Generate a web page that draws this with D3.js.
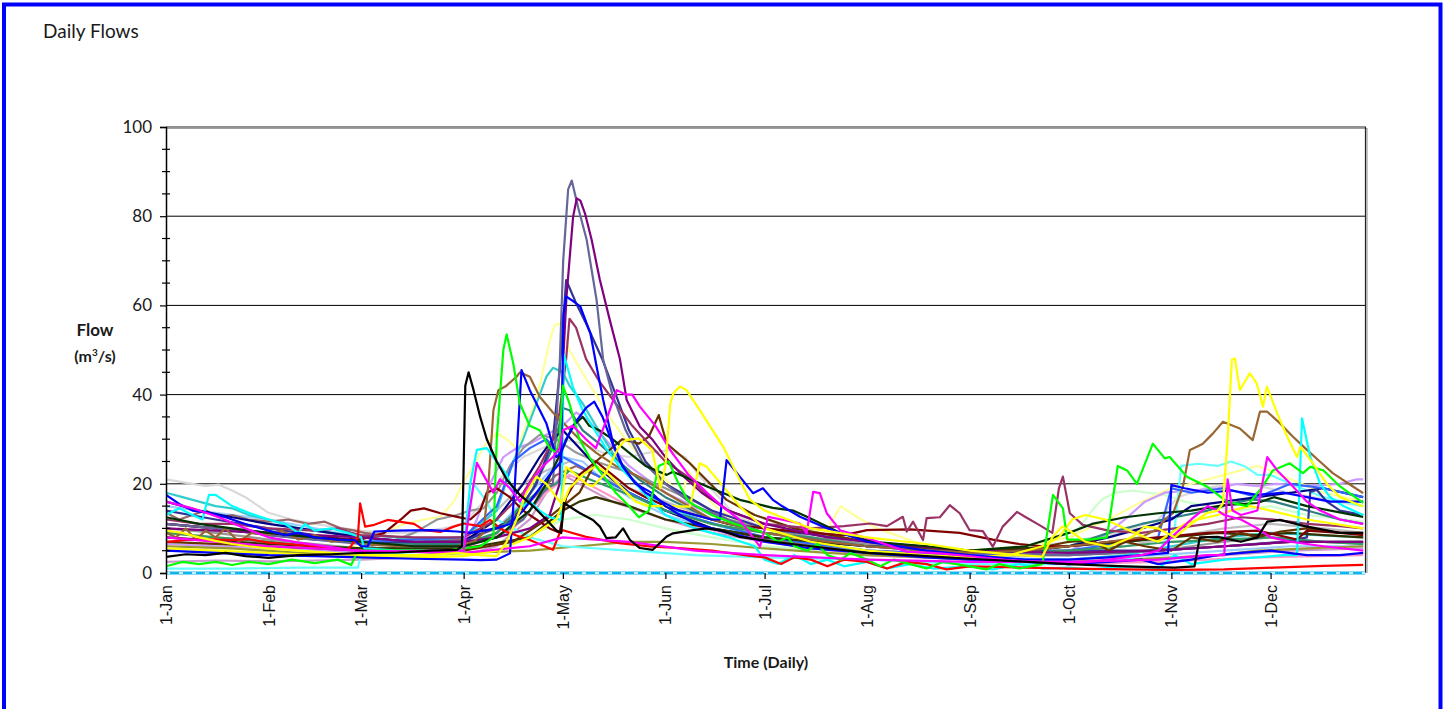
<!DOCTYPE html>
<html>
<head>
<meta charset="utf-8">
<title>Daily Flows</title>
<script src="https://cdn.jsdelivr.net/npm/d3@7/dist/d3.min.js"></script>
<style>
  html, body { margin: 0; padding: 0; background: #ffffff; }
  svg { display: block; }
  .ui { font-family: Lato, "Open Sans", sans-serif; fill: #1a1a1a; }
  .xlab { font-family: "Liberation Sans", Arial, sans-serif; font-size: 16px; fill: #111; }
</style>
</head>
<body>
<svg id="chart" width="1445" height="709"></svg>
<script>
// ---- axis ticks ----
const monthDays   = [0, 31, 59, 90, 120, 151, 181, 212, 243, 273, 304, 334];
const monthLabels = ["1-Jan", "1-Feb", "1-Mar", "1-Apr", "1-May", "1-Jun",
                     "1-Jul", "1-Aug", "1-Sep", "1-Oct", "1-Nov", "1-Dec"];
const yMajor = [0, 20, 40, 60, 80, 100];
const yMinor = [5, 10, 15, 25, 30, 35, 45, 50, 55, 65, 70, 75, 85, 90, 95];
const dayExtent = [0, 362.7];

// ---- daily flow records, [day of year, flow m3/s] ----
const flowLightGray = [[0,21],[4,20.5],[8,20],[12,19.5],[16,19.8],[20,18.5],[24,17],[28,15],[31,13.5],[38,12],[45,11],[52,10.2],[59,9.5],[66,9],[75,9],[84,10],[90,11],[96,16],[102,22],[108,26],[114,28],[120,30],[126,29],[132,27],[140,26],[146,27],[152,27.5],[157,26],[161,22],[166,18],[172,13],[181,10],[195,8],[212,6.5],[228,5.5],[243,5],[258,5.5],[273,7],[288,9],[300,12],[306,17],[314,19],[322,20],[330,19.5],[340,18],[350,16.5],[362,15]];
const flowSilver = [[0,9],[15,8],[31,7],[45,6],[59,5.5],[75,6],[90,8],[100,14],[108,20],[115,23],[122,25],[130,22],[140,19],[151,16],[165,12],[181,9],[200,7],[212,6],[230,5],[243,4.5],[260,4],[273,4.5],[290,6],[304,8],[320,10],[334,11],[350,10],[362,9]];
const flowThistle = [[0,2.5],[15,2.8],[31,2.6],[45,2.8],[59,3],[75,3.5],[90,4],[100,6],[110,12],[115,18],[120,22],[125,20],[135,16],[151,12],[165,9],[181,7],[212,5],[243,3],[273,2.5],[300,3],[320,4],[340,5],[362,5.5]];
const flowLightGreen = [[0,5],[31,4.5],[59,4],[90,4],[100,5],[108,8],[115,10],[120,12],[130,13],[140,12],[151,10],[165,8],[181,6],[212,4.5],[243,3.5],[265,4],[272,6],[276,10],[280,14],[283,16.5],[287,18],[292,18.5],[297,18],[302,17.5],[308,16],[315,15],[325,14],[334,15],[345,13],[362,11.5]];
const flowLightYellow = [[0,6],[15,5.5],[31,5],[45,5],[59,6],[66,9],[72,11],[78,12],[83,12.6],[87,16],[90,20.5],[93,24],[96,28.3],[100,31.4],[103,30],[106,28],[110,35],[113,42],[116,52],[117.5,55.5],[119,56],[120,54.5],[122,50],[125,46],[130,40],[135,34],[140,29],[145,25],[151,21],[156,17],[158,23],[161,19],[166,15],[172,12],[181,10],[195,9],[200,10],[204,15],[209,12.5],[215,10],[230,6],[243,5],[260,6],[273,8],[285,12],[295,16],[304,19],[310,20],[320,22],[330,24],[334,23],[340,21],[350,18],[362,16]];
const flowPaleBlue = [[0,15],[10,14],[20,13],[31,12],[45,10],[59,8],[75,7],[90,7],[100,10],[108,16],[115,22],[120,26],[126,25],[132,21],[140,17],[151,13],[165,10],[181,7],[212,5],[243,3.5],[273,3],[300,4],[320,5],[340,6],[362,6]];
const flowLavender = [[0,6.5],[15,6],[31,5.5],[45,5],[59,4.8],[75,5],[90,6],[94,12],[98,20],[102,26],[106,28],[110,29],[115,31],[120,33],[124,36],[128,34],[134,29],[140,24],[151,18],[165,13],[181,9],[200,7],[212,6],[230,5],[243,4],[260,4],[273,5],[283,8],[290,12],[296,16],[302,18],[310,18.5],[318,19],[324,20],[330,19.5],[336,20],[345,19.5],[355,20],[360,21],[362,21]];
const flowRose = [[0,8],[31,6],[59,5],[90,5.5],[105,10],[115,18],[122,22],[130,19],[140,15],[151,12],[181,7],[212,4],[243,3],[273,2],[300,2.5],[330,3.5],[362,4]];
const flowOlive = [[0,6],[20,5.5],[40,4.5],[59,4],[75,4],[90,4.5],[110,5],[125,6],[140,7],[151,7],[165,6.5],[181,5.5],[200,4.5],[212,4],[230,3.5],[243,3],[260,2.5],[273,2.5],[290,3],[305,3.5],[318,4],[330,5],[345,5.5],[362,6]];
const flowGray = [[0,10],[15,9],[31,7.5],[45,6.5],[59,5.5],[68,7],[75,9],[82,12],[88,13],[92,14],[96,14.5],[100,18],[104,24],[108,28],[113,31],[118,30],[124,27],[130,25],[138,23],[145,21],[151,19],[160,16],[170,12],[181,10],[195,8],[212,6.5],[230,5.5],[243,4.5],[260,4],[273,4],[290,4.5],[305,5.5],[320,7],[334,8],[350,7],[362,6.5]];
const flowRosyBrown = [[0,13.5],[4,12],[8,13],[12,14],[16,12.5],[20,13],[25,12],[31,11.5],[37,12],[43,11],[48,11.5],[53,10],[57,9.5],[60,9],[70,8],[80,7.5],[90,7.5],[100,10],[110,16],[118,22],[124,24],[130,22],[140,18],[151,14],[165,10],[181,7.5],[212,5],[243,4],[273,4],[300,5],[320,6],[340,7],[362,7]];
const flowTeal = [[0,18],[5,17],[10,16],[15,15],[20,14.5],[25,13],[31,12],[40,10],[50,9],[59,8],[62,8.5],[70,8],[80,7.5],[90,8],[100,14],[105,25],[108,30],[112,38],[115,44],[117,46],[120,45],[122,42],[126,38],[130,33],[135,27],[140,22],[145,18],[151,15],[165,11],[181,8],[212,5],[243,3],[273,3],[290,4],[304,6],[320,8],[334,9],[362,8]];
const flowDarkTeal = [[0,11],[15,10],[31,8.5],[45,7.5],[59,7],[75,6.5],[90,6.5],[100,9],[106,13],[111,19],[115,25],[118,30],[120,37],[122,36.5],[126,32],[131,29],[137,25],[143,21],[151,17],[165,12],[181,9],[200,7],[212,6],[243,5],[260,5],[273,6],[285,9],[295,11],[305,12.5],[315,14],[322,15.5],[328,16.5],[335,16],[345,14],[355,12],[362,11]];
const flowLightCyan = [[0,1],[20,1],[40,1.2],[58,1.2],[59,4],[70,4.5],[85,5],[90,5],[93,20],[96,17],[100,12],[110,8],[120,6],[140,5],[160,4],[181,3.5],[212,3],[243,2],[273,2],[290,3],[300,5],[305,10],[307,24],[312,24.5],[318,24],[322,25],[326,24],[330,22],[334,22],[340,20],[350,17],[362,15]];
const flowNavy = [[0,16],[10,14],[20,12.5],[31,11],[45,9.5],[59,8],[75,7],[90,7],[100,12],[108,20],[113,26],[117,30],[120,32],[125,28],[130,24],[140,18],[151,14],[165,10],[181,8],[212,6],[243,5],[260,5],[273,6],[285,8],[295,10],[304,12],[310,15],[320,16],[330,17],[340,18],[350,19],[362,17]];
const flowDarkBlue = [[0,14],[15,12],[31,10],[59,7],[90,7],[105,12],[112,20],[117,30],[119,45],[121,65.7],[124,60.5],[127,56],[132,47.8],[136,40],[140,32],[145,25],[151,20],[165,14],[181,10],[212,7],[243,5],[273,5],[300,5],[320,6],[338,7],[345,8],[346,18.2],[348,18.6],[351,16],[355,14],[362,13]];
const flowRoyal = [[0,11],[31,9],[59,7],[90,8],[100,15],[105,25],[110,28],[115,30],[120,26],[130,22],[140,18],[151,14],[181,8],[212,5],[243,4],[273,5],[300,8],[304,19],[310,18],[320,19],[330,17],[340,20],[350,19],[362,17]];
const flowSeaGreen = [[0,9],[15,8],[31,7],[45,6],[59,5.5],[75,5.5],[90,6],[100,9],[106,14],[112,18],[118,20],[122,23],[128,21],[135,19],[142,17],[151,14],[165,11],[181,9],[195,8],[212,6],[230,5],[243,4.5],[260,4.5],[273,5],[290,6],[304,7],[320,7.5],[334,8],[350,7],[362,6.5]];
const flowDarkOlive = [[0,8],[31,6.5],[59,5.5],[90,5.5],[110,8],[120,14],[125,16],[130,17],[140,15],[151,12],[165,10],[181,8],[212,6],[243,5],[273,6],[290,7],[304,8],[318,9],[330,8.5],[340,9],[350,8.5],[362,8]];
const flowDarkBrown = [[0,7],[31,6],[59,5],[90,5],[105,7],[115,12],[120,15],[125,18],[130,25],[138,30],[143,29],[146,30.6],[149,35.4],[151.4,29],[158.4,24.6],[163.5,20.8],[169.5,16.4],[178,13],[190,10],[212,7],[230,5.5],[243,5],[260,5],[273,7],[280,7.4],[285,5],[290,7],[296,6],[304,5],[310,8],[318,7],[325,9],[330,8],[337,9.3],[345,10],[355,9],[362,9]];
const flowMaroon = [[0,11],[15,10],[31,9],[45,8],[59,7.5],[66,9],[71,12],[74,14],[78,14.5],[83,13.4],[88,12.6],[92,12],[95,14],[97,18],[100,19],[104,17],[108,14],[112,12],[116,10],[119,9],[121,17],[125,22],[130,25],[135,22],[140,19],[145,17],[151,15],[160,13],[170,11],[181,10],[195,9],[205,8.5],[212,9.6],[225,9.8],[240,9],[250,7.5],[258,6.5],[265,6],[273,6],[285,7],[300,8],[315,9],[330,9.5],[342,7.5],[345,9.5],[355,9],[362,8.5]];
const flowPlum = [[0,12],[10,11],[20,11],[31,10],[45,9.5],[52,10],[56,9],[59,8.5],[75,8],[90,8],[100,12],[108,18],[113,24],[117,30],[119,36],[121,48],[122,57],[124,55],[127,48],[131,43],[136,38],[141,33],[146,29],[151,25],[157,22],[163,18],[170,14],[181,11],[195,10],[205,10.5],[212.9,11.1],[218,10.5],[222.8,12.6],[224,9.3],[225.9,11.5],[228.9,7.4],[230,12.3],[234,12.5],[237,15.2],[240,13.4],[243,9.6],[247,9.4],[250,5.9],[253,10.4],[257.3,13.7],[260,12.5],[264,10.8],[268,9],[270,19],[271.2,21.6],[273.3,13.4],[277.2,10.8],[285,9.5],[295,9],[305,10],[315,11],[325,12.5],[335,12],[345,11],[355,10.5],[362,10]];
const flowSlate = [[0,11],[15,10],[31,8.5],[45,7.5],[59,6.5],[75,6],[90,6],[100,8],[108,12],[114,18],[117,20],[119.1,47.8],[120.1,70],[121.6,86],[122.7,88],[124.6,82],[127.2,74.7],[130.2,61.2],[132.2,47.8],[135,40],[139,32],[144,25],[151,20],[160,15],[170,12],[181,9],[212,6],[243,4.5],[273,4],[300,5],[320,6],[340,7],[362,7]];
const flowPurple = [[0,10],[15,9.5],[31,9],[45,8.5],[59,8],[75,7],[90,7],[100,8],[110,10],[116,13],[119,20],[120.1,47.8],[121.1,62],[123.1,79.9],[124.2,84],[125.3,83.5],[126.7,80.6],[128.7,74.7],[131.2,65.7],[134.2,56.7],[137.3,47.8],[139.3,38.8],[143.3,32.8],[147.2,29.8],[151,26],[156,22],[162,18],[170,14],[181,11],[200,8],[212,7],[243,5],[273,4.5],[300,5],[320,6],[340,7],[362,7]];
const flowBrown = [[0,9],[3,8],[6,10],[9,7.5],[12,9.5],[15,8],[18,10],[22,7],[26,9],[31,8.5],[35,9.5],[40,7.5],[45,8.5],[50,7],[55,7.5],[59,6.5],[70,6],[80,6],[88,6],[93,7],[96,9],[97.5,20],[99,36.5],[100.5,41],[102.6,41.8],[106,44],[107,45],[110,44],[113,39.5],[117,36],[121,33],[125,30],[130,27],[136,24],[142,22],[151,18],[165,12],[181,9],[200,7],[212,6],[230,5],[243,4.5],[260,5],[273,6],[285,7],[295,8],[300,10],[302,12],[304.5,13.4],[307.5,19.4],[309.6,27.6],[311.7,28.3],[313.5,29],[316.6,31.3],[319.6,33.9],[324.7,32.4],[328.6,29.8],[330.8,36.2],[332.9,36.2],[336.8,33.6],[340.7,30.6],[345,27.6],[348.9,25],[352.8,22.4],[358.9,19.4],[362,17.9]];
const flowDarkGreen = [[0,12.5],[10,11],[20,10],[31,9],[45,8],[59,7],[75,6],[90,6],[100,8],[110,14],[115,20],[120,28],[123,33],[126,35],[128,33],[131,32],[135,30],[140,27],[145,24],[151.4,22],[153.3,22.7],[163.6,19.4],[173.5,16.4],[183.5,14.6],[189.6,14],[193.8,12.6],[203.8,9],[213.8,7],[230,6],[243,5],[260,6],[273,9],[280,11],[290,12.5],[300,13.4],[310,14],[320,15.2],[330,15.7],[335,17],[345,15],[362,12.6]];
const flowCyan = [[0,13],[4,14.5],[8,13],[11,12],[13,17.5],[15,17.5],[20,15],[25,13.5],[31,12],[36,11],[40,9],[42,11],[45,9.5],[50,10],[55,9],[59,8],[60,5.5],[70,5],[80,5],[90,5],[92,20],[94,27.6],[97,28],[100,25],[103,22],[106,17],[108,15],[110,16],[113,14],[116,12.5],[119.5,11.9],[120.3,49],[123,41.8],[126,36.5],[129,32.8],[133,28],[137,24],[142,20],[147,16],[151,13],[160,10],[170,8],[178,6],[181,3],[185,2],[190,4],[195,2],[200,3],[205,1.5],[212,2.5],[218,1],[225,2],[232,1],[243,1.5],[250,0.8],[258,2],[265,1],[273,1.2],[280,0.8],[290,1.5],[300,1],[305,4],[310,2],[320,3],[330,3.5],[338,4],[342,4],[343.5,34.7],[346,26],[349,20],[352,17],[356,15],[362,13]];
const flowRed = [[0,7],[6,7.4],[12,7.6],[20,7.4],[25,7.6],[31,6.8],[40,6.3],[50,5.7],[55,5.2],[58,8],[58.7,15.6],[60.2,10.4],[63,10.8],[67,11.9],[75,11],[78,9.6],[83,9.2],[87,10.4],[90,11.1],[95,10.5],[98,11.9],[101,10],[104,8.9],[110,7.4],[117,5.2],[119,8.9],[120,9.6],[127,8.1],[137,6.7],[147,5.9],[155,5.6],[165,5],[175,4],[181,3.5],[186,2],[190,3.5],[195,3],[200,1.5],[205,3],[212,2.5],[218,1],[224,2.5],[230,2],[236,0.8],[243,1.5],[260,1.2],[273,1],[290,0.8],[305,0.7],[320,0.8],[335,1.2],[350,1.6],[362,1.8]];
const flowGold = [[0,5.5],[15,5],[31,4.5],[45,4],[59,3.5],[75,3.5],[90,3.8],[100,5],[110,8],[118,12],[122,19],[126,22],[130,24],[134,22],[138,19],[142,16],[146,15],[151,15],[158.4,14.9],[161.4,24.6],[163.5,23.8],[168.5,19.4],[173.5,14.9],[181,10],[195,7],[212,5],[230,4],[243,3.5],[255,4],[265,6],[270,8],[274,12],[278,13],[284,12],[290,10],[296,8],[300,7],[304,9],[308,11],[312,12],[318,13],[322,14],[328,15],[334,14],[345,12],[362,10]];
const flowBlueA = [[0,17.5],[4,15.5],[8,14],[13,13.5],[18,12.5],[24,11],[31,9.5],[36,8.5],[40,9],[45,8],[52,7.5],[57,7.4],[59,6],[61,6],[63,9.3],[70,9.5],[80,9.6],[88,9.3],[92,9],[96,9.5],[100,10],[104,11],[108,14],[112,18],[116,22],[119.5,25],[120.2,58],[121,62],[123,61],[125.3,59.7],[128.3,53.8],[130.2,46.3],[132.2,38.8],[135.2,29],[138.2,23.8],[141,21],[145,18],[150,16],[155,14],[160,13],[165,12],[167.5,12],[169.5,25.3],[173.5,21.6],[177.5,17.9],[180.5,19],[183.5,16.4],[186.5,14.9],[191.7,12.6],[200,10],[212,7],[230,5],[243,4],[260,3],[273,3],[285,3.5],[295,4],[303,4.5],[304,19.7],[308,19],[315,18],[322,18.5],[330,17.5],[338,18],[345,17],[352,16],[362,16]];
const flowBlueB = [[0,5],[15,4.5],[31,4],[45,3.8],[59,3.5],[75,3.2],[90,3],[95,2.9],[100,3],[104,4.4],[105.5,20],[107.5,45.5],[110,41],[115,33.6],[118,26],[119.5,27],[121,30],[124,34],[127,37],[129.5,38.4],[132,35],[135,29],[138,24],[142,20],[147,17.9],[151,15],[160,11],[170,9],[181,7],[195,5.5],[212,4.5],[230,3.5],[243,3],[260,2.5],[273,2],[285,2.5],[295,3],[300,2],[310,3],[318,4],[325,4.5],[334,5],[345,4],[355,4],[362,4.5]];
const flowGreen = [[0,1.5],[5,2.5],[10,2],[15,2.5],[20,1.8],[25,2.5],[31,2],[38,3],[45,2.2],[52,3],[56,1.8],[58,5],[70,5],[85,5],[95,6],[99,8],[100,30],[102,50],[103,53.5],[105,47],[107,38],[110,33],[113,32],[116,28],[118,27],[119,30],[120,42],[122,38],[125,30],[128,26],[132,22],[136,18],[140,15],[143,12.5],[146,14],[149,24],[152,25],[155,20],[158,16],[165,13],[172,11],[181,9],[185,7],[188,8],[190,6],[194,5],[197,6.5],[200,4],[204,3],[207,4.5],[212,3],[216,1.5],[220,3],[225,2],[230,1],[235,2.5],[243,1.5],[248,0.8],[252,2],[258,1],[265,2],[268.2,17.5],[271.2,14.5],[272.5,7.5],[279.4,7.5],[284.5,8],[287.8,24],[290.6,23],[293.6,20],[298.4,29],[302,25.7],[303.5,26],[308.7,21.6],[314.7,19.4],[320.8,16],[326.8,15],[330.8,18.6],[334.7,23],[339.8,24.6],[343.8,22.4],[346,23.8],[350,23],[355,19.4],[362,15.7]];
const flowMagentaB = [[0,8],[31,6],[59,5],[90,4.5],[110,6],[120,8],[140,7],[160,5],[181,4],[212,3],[243,2.5],[273,2.5],[300,3],[315,4],[320,4],[321,21],[322.5,14],[325,13],[330,14],[333,26],[336,23],[340,20],[345,16],[349,14],[355,12],[362,11]];
const flowMagenta = [[0,16],[8,14.5],[16,12.5],[24,10],[31,8],[40,6.8],[50,5.8],[59,4.8],[70,4.8],[80,5],[90,5],[92,15],[94,24.7],[96,22],[99,18],[101,21],[104,19],[107,16],[110,20],[114,24],[117,26],[119,28],[120,32],[123,33],[127,30],[130,28],[133,34],[136.3,41],[139,40],[141,40],[143.3,37.3],[148,33],[153,27],[158,22],[163.6,18],[168,15],[173.5,11.9],[179.6,5.9],[182.1,12.6],[186,12],[191.7,11.1],[193.7,8.9],[195.7,18.2],[197.7,17.9],[199.8,13.4],[203.8,9.6],[213.8,7.4],[224,4.8],[234,4.4],[244,3.7],[254.3,2.9],[265,2.5],[273,2],[285,3],[295,4],[300,5],[304,8],[310,12],[315,15],[318,14],[320,13],[325,12],[330,10],[334,8],[340,7],[350,6],[362,5]];
const flowYellow = [[0,9.5],[5,9],[10,8],[15,7.2],[20,6.5],[25,6],[31,5.5],[40,5],[50,4.5],[59,4],[70,4],[80,4],[88,4.5],[95,4],[100,3.8],[103,7],[106,12],[109,18],[112,21.6],[115,20],[118,17],[119.5,15.7],[121,23.8],[124,22],[127,20],[129,19.4],[133,22.4],[137,28.3],[139,29.8],[143,30.2],[147,27.6],[149.5,19],[151,24],[152.5,38],[153.4,40.3],[155.4,41.8],[157.4,41],[161.4,36.5],[168.5,28.3],[173.5,20.8],[176.6,16.4],[181,14],[188,12],[195,10],[212,8],[230,6.5],[243,5],[258,4],[265,3.7],[268,8],[271,10.4],[273,9.6],[278,7],[285,5.9],[292,8],[296,10.4],[300,10],[305,8],[310,11],[314.7,13.4],[318,14],[319.6,15.6],[321,30],[322.3,47.8],[323.2,48.1],[324.7,41],[327.7,44.8],[329.8,42.5],[331.7,37.3],[332.9,41.8],[336,35.8],[339,30.6],[342,26],[343,28.3],[346.8,24.6],[351,20],[355,17],[362,14.9]];
const flowBlack = [[0,3.6],[6,4.2],[12,4],[18,4.5],[24,3.8],[31,3.4],[40,4],[50,4.2],[59,4.5],[70,4.6],[80,5],[88,5.2],[89.5,6],[90.5,42],[91.5,45],[93,41],[95,35],[97,30],[100,25],[103,21],[107,17.5],[111,15],[115,12],[118,9.6],[119.5,9],[120.3,15.7],[125.2,13.4],[129.1,11.9],[131.2,10.4],[133.2,7.8],[136,8],[138.2,10],[140.3,7.4],[143.3,5.6],[147.2,5.2],[151.4,8.2],[153.3,8.9],[159.4,9.6],[163.5,10],[168,9.5],[173.5,8.1],[183.5,7],[195,6],[212,4.5],[225,4],[243,3.2],[258,2.6],[273,2],[290,1.5],[305,1.2],[311,1.5],[312.6,8],[318,8.1],[325,7],[330,8],[333,11.5],[336.8,11.9],[345,10.4],[355,9],[362,9]];
const flowZero = [[0,0],[362.7,0]];

// ---- drawing styles, bottom layer first ----
const seriesList = [
  { data: flowLightGray,   color: "#d9d9d9" },
  { data: flowSilver,      color: "#bfbfbf" },
  { data: flowThistle,     color: "#cc99cc" },
  { data: flowLightGreen,  color: "#ccffcc" },
  { data: flowLightYellow, color: "#ffff99" },
  { data: flowPaleBlue,    color: "#99ccff" },
  { data: flowLavender,    color: "#cc99ff" },
  { data: flowRose,        color: "#ff99cc" },
  { data: flowOlive,       color: "#999933" },
  { data: flowGray,        color: "#969696" },
  { data: flowRosyBrown,   color: "#996666" },
  { data: flowTeal,        color: "#33cccc" },
  { data: flowDarkTeal,    color: "#2f7f7f" },
  { data: flowLightCyan,   color: "#66ffff" },
  { data: flowNavy,        color: "#000080" },
  { data: flowDarkBlue,    color: "#333399" },
  { data: flowRoyal,       color: "#3366ff" },
  { data: flowSeaGreen,    color: "#339966" },
  { data: flowDarkOlive,   color: "#333300" },
  { data: flowDarkBrown,   color: "#663300" },
  { data: flowMaroon,      color: "#800000" },
  { data: flowPlum,        color: "#993366" },
  { data: flowSlate,       color: "#666699" },
  { data: flowPurple,      color: "#800080" },
  { data: flowBrown,       color: "#996633" },
  { data: flowDarkGreen,   color: "#003300" },
  { data: flowCyan,        color: "#00ffff" },
  { data: flowRed,         color: "#ff0000" },
  { data: flowGold,        color: "#ffff00" },
  { data: flowBlueB,       color: "#0000ff" },
  { data: flowBlueA,       color: "#0000ff" },
  { data: flowGreen,       color: "#00ff00" },
  { data: flowMagentaB,    color: "#ff00ff" },
  { data: flowMagenta,     color: "#ff00ff" },
  { data: flowYellow,      color: "#ffff00" },
  { data: flowBlack,       color: "#000000" },
  { data: flowZero,        color: "#12b4ec", width: 3 },
  { data: flowZero,        color: "#ffffff", width: 1.5, dash: "4,9" }
];

// ---- layout ----
const svg = d3.select("#chart");
const plot = { left: 166, right: 1365.5, top: 127, bottom: 573 };

const x = d3.scaleLinear().domain(dayExtent).range([plot.left, plot.right]);
const y = d3.scaleLinear().domain([0, 100]).range([plot.bottom, plot.top]);

// outer frame
svg.append("rect")
  .attr("x", 4).attr("y", 4.5)
  .attr("width", 1436.5).attr("height", 720)
  .attr("fill", "none").attr("stroke", "#0000ff").attr("stroke-width", 4);

// title
svg.append("text").attr("class", "ui")
  .attr("x", 43).attr("y", 38)
  .style("font-size", "19px")
  .text("Daily Flows");

// horizontal gridlines
svg.append("g").selectAll("line")
  .data(yMajor.filter(v => v > 0 && v < 100))
  .join("line")
  .attr("x1", plot.left).attr("x2", plot.right)
  .attr("y1", d => y(d)).attr("y2", d => y(d))
  .attr("stroke", "#000").attr("stroke-width", 1);

// plot frame (top and right), with a light shadow edge
svg.append("path")
  .attr("d", `M${plot.left},${y(100) + 1.5}H${plot.right + 1.5}V${plot.bottom}`)
  .attr("fill", "none").attr("stroke", "#a0a0a0").attr("stroke-width", 1.2);
svg.append("path")
  .attr("d", `M${plot.left},${y(100)}H${plot.right}V${plot.bottom}`)
  .attr("fill", "none").attr("stroke", "#222").attr("stroke-width", 1.2);

// flow lines
const line = d3.line().x(d => x(d[0])).y(d => y(d[1]));
svg.append("clipPath").attr("id", "plotclip")
  .append("rect").attr("x", plot.left).attr("y", plot.top - 2)
  .attr("width", plot.right - plot.left).attr("height", plot.bottom - plot.top + 4);

svg.append("g").attr("clip-path", "url(#plotclip)")
  .selectAll("path")
  .data(seriesList)
  .join("path")
  .attr("d", d => line(d.data))
  .attr("fill", "none")
  .attr("stroke", d => d.color)
  .attr("stroke-width", d => d.width || 2.2)
  .attr("stroke-dasharray", d => d.dash || null)
  .attr("stroke-linejoin", "round");

// y axis
const yAxis = svg.append("g")
  .attr("transform", `translate(${plot.left},0)`)
  .call(d3.axisLeft(y).tickValues(yMajor).tickSize(6).tickPadding(8).tickFormat(d3.format("d")));
yAxis.select(".domain").attr("stroke", "#000").attr("stroke-width", 1.5);
yAxis.selectAll(".tick line").attr("stroke", "#000").attr("stroke-width", 1.2);
yAxis.selectAll(".tick text")
  .attr("class", "ui")
  .style("font-size", "17px")
  .style("font-family", "Lato, 'Open Sans', sans-serif")
  .attr("fill", "#1a1a1a");

// minor ticks crossing the y axis
svg.append("g").selectAll("line")
  .data(yMinor)
  .join("line")
  .attr("x1", plot.left - 4).attr("x2", plot.left + 4)
  .attr("y1", d => y(d)).attr("y2", d => y(d))
  .attr("stroke", "#000").attr("stroke-width", 1.2);

// x axis
const xAxis = svg.append("g")
  .attr("transform", `translate(0,${plot.bottom})`)
  .call(d3.axisBottom(x).tickValues(monthDays).tickSize(6)
        .tickFormat((d, i) => monthLabels[i]));
xAxis.select(".domain").remove();
xAxis.selectAll(".tick line").attr("stroke", "#000").attr("stroke-width", 1.2);
xAxis.selectAll(".tick text")
  .attr("class", "xlab")
  .attr("text-anchor", "end")
  .attr("dominant-baseline", "central")
  .attr("x", 0).attr("y", 0)
  .attr("dy", null)
  .attr("transform", "translate(0,12) rotate(-90)");

// axis titles
svg.append("text").attr("class", "ui")
  .attr("x", 95).attr("y", 336)
  .attr("text-anchor", "middle")
  .style("font-size", "17px").style("font-weight", "bold")
  .text("Flow");
const unit = svg.append("text").attr("class", "ui")
  .attr("x", 95).attr("y", 362)
  .attr("text-anchor", "middle")
  .style("font-size", "16px").style("font-weight", "bold");
unit.append("tspan").text("(m");
unit.append("tspan").attr("dy", -6).style("font-size", "10px").text("3");
unit.append("tspan").attr("dy", 6).text("/s)");

svg.append("text").attr("class", "ui")
  .attr("x", 766).attr("y", 668)
  .attr("text-anchor", "middle")
  .style("font-size", "16px").style("font-weight", "bold")
  .text("Time (Daily)");
</script>
</body>
</html>
